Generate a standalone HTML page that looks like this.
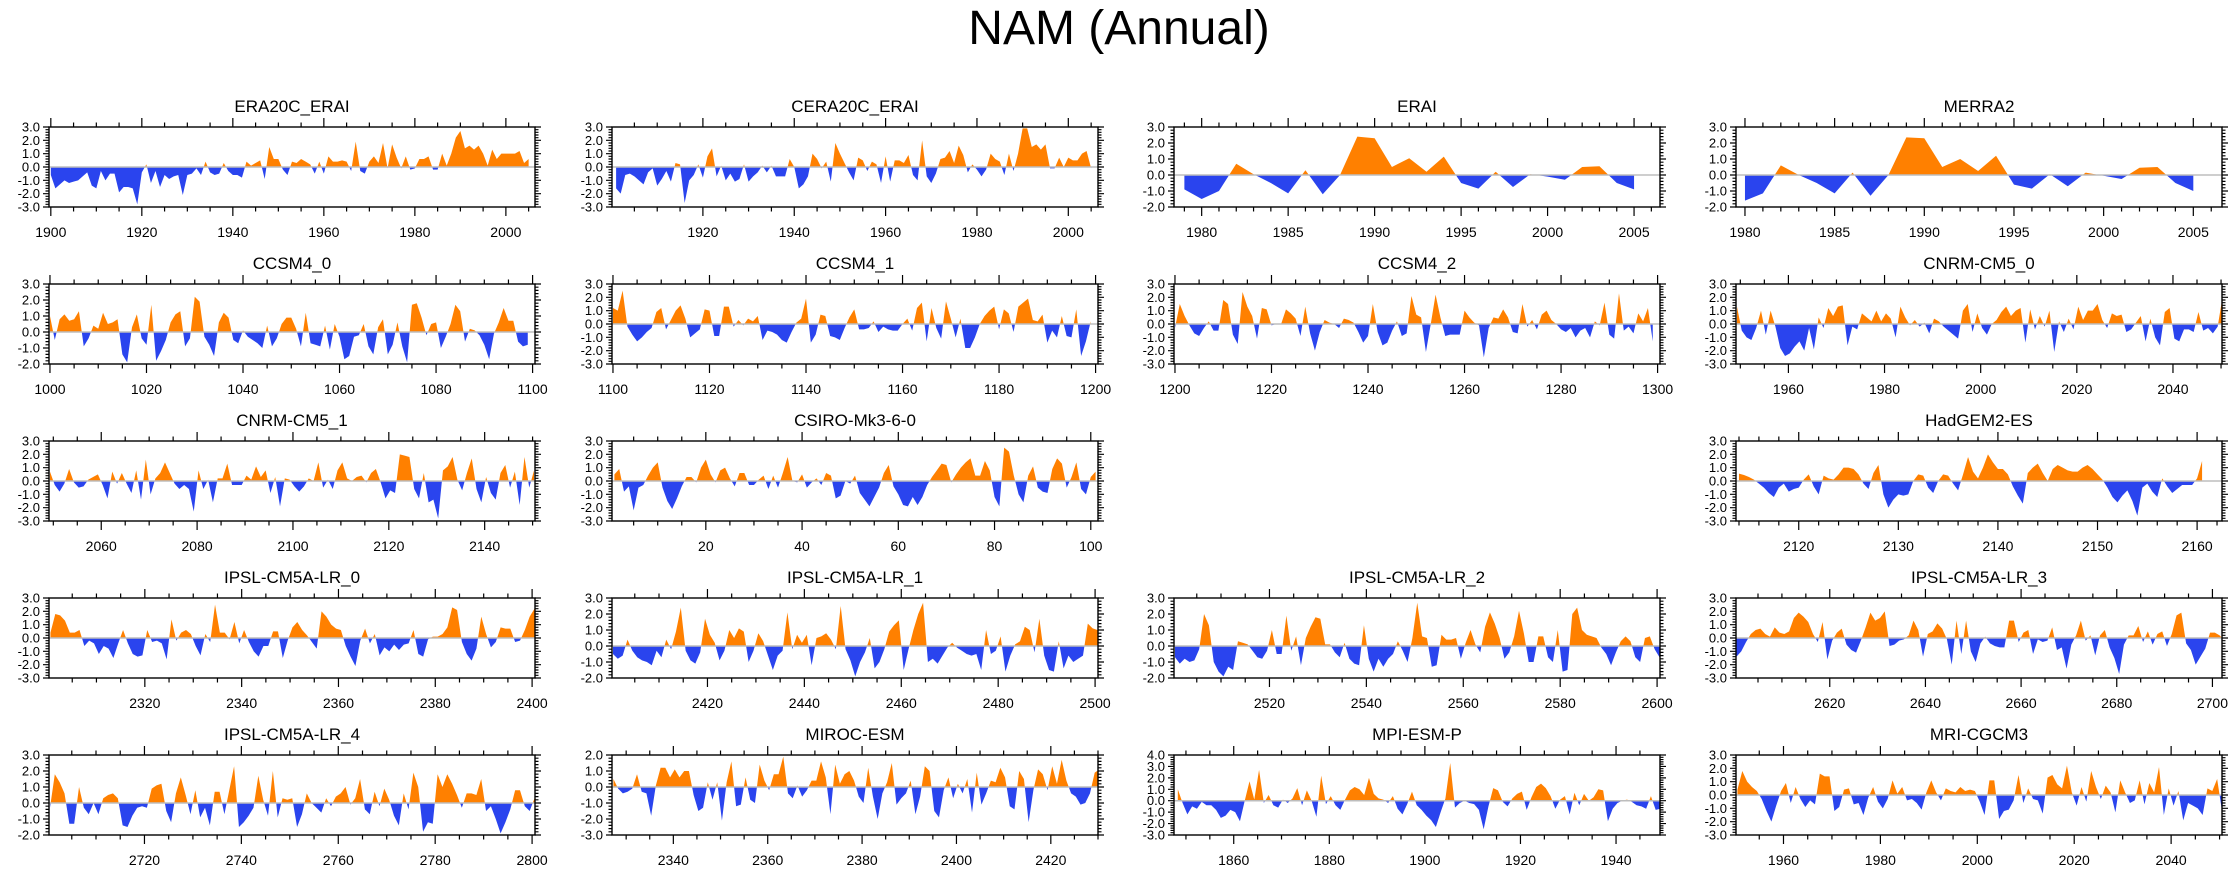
<!DOCTYPE html>
<html><head><meta charset="utf-8"><title>NAM (Annual)</title>
<style>
html,body{margin:0;padding:0;background:#fff;}
svg{display:block;font-family:"Liberation Sans",Arial,sans-serif;}
</style></head>
<body>
<svg id="chart" width="2238" height="876" viewBox="0 0 2238 876" xmlns="http://www.w3.org/2000/svg">
<text x="1119" y="44" font-size="48" text-anchor="middle" fill="#000">NAM (Annual)</text>
</svg>
<script>
// ---- data arrays ----
const era20cValues=[-0.6,-1.6,-1.3,-1.0,-1.2,-1.1,-1.0,-0.7,-0.4,-1.4,-1.6,-0.3,-1.0,-0.5,-0.5,-1.9,-1.5,-1.5,-1.6,-2.8,-0.4,0.2,-1.2,-0.3,-1.5,-0.6,-0.9,-0.7,-0.6,-2.1,-0.6,-0.5,-0.1,-0.6,0.4,-0.4,-0.6,-0.5,0.3,-0.3,-0.6,-0.6,-0.8,0.4,0.1,0.3,0.5,-0.9,1.5,0.6,0.6,-0.2,-0.6,0.4,0.3,0.6,0.4,0.2,-0.5,0.4,-0.5,0.8,0.4,0.4,0.5,0.4,-0.3,1.9,-0.3,-0.5,0.4,0.8,0.3,1.8,-0.1,1.7,0.7,-0.1,0.8,-0.2,-0.1,0.6,0.6,0.8,-0.2,-0.2,1.0,0.1,1.0,2.2,2.7,1.4,1.6,1.3,1.6,1.0,0.1,1.3,0.6,1.0,1.0,1.0,1.0,1.2,0.3,0.6];
const cera20cValues=[-1.6,-2.0,-0.6,-0.5,-0.7,-1.0,-1.3,-0.4,-0.1,-1.4,-0.9,-0.3,-1.1,0.3,0.2,-2.7,-1.0,-0.6,0.2,-0.8,0.8,1.4,-0.7,0.1,-1.0,-0.5,-1.1,-0.9,0.2,-1.1,-0.7,-0.4,0.1,-0.4,0.1,-0.7,-0.7,-0.7,0.6,0.0,-1.6,-1.3,-0.7,1.0,0.6,-0.1,0.4,-1.1,1.8,1.0,0.3,-0.4,-1.0,0.7,0.5,-0.3,0.4,0.2,-1.2,0.8,-1.1,0.5,0.5,0.3,0.9,-0.6,-1.0,2.0,-0.7,-1.2,-0.5,0.6,0.7,1.2,0.3,1.6,0.9,-0.4,0.2,-0.2,-0.7,-0.2,1.0,0.6,0.4,-0.6,1.0,-0.3,1.0,2.9,2.9,1.5,1.7,1.3,1.7,-0.1,-0.1,0.7,0.0,0.7,0.5,0.5,1.0,1.2,-0.1];
const eraiValues=[-0.9,-1.5,-1.0,0.7,0.05,-0.5,-1.15,0.3,-1.2,0.0,2.4,2.3,0.5,1.05,0.2,1.15,-0.5,-0.85,0.2,-0.75,0.05,-0.1,-0.3,0.5,0.55,-0.5,-0.9];
const merra2Values=[-1.6,-1.15,0.6,0.0,-0.5,-1.15,0.15,-1.3,0.0,2.35,2.3,0.5,1.0,0.25,1.2,-0.6,-0.85,0.05,-0.7,0.15,-0.05,-0.25,0.45,0.5,-0.5,-1.0];
const ccsm40Values=[1.0,-0.5,0.8,1.1,0.7,0.8,1.3,-0.9,-0.4,0.4,0.2,1.2,0.5,0.6,0.8,-1.4,-1.9,0.3,1.1,-0.4,-0.8,1.7,-1.8,-1.2,-0.5,0.6,1.1,1.3,-0.9,-0.4,2.2,1.9,-0.3,-0.8,-1.5,0.6,1.2,0.9,-0.5,-0.7,0.1,-0.3,-0.5,-0.7,-1.0,0.4,-0.9,-0.4,0.5,0.9,0.9,0.2,-0.9,1.2,-0.7,-0.8,-0.9,0.4,-1.1,0.5,-0.3,-1.7,-1.5,-0.3,-0.2,0.5,-0.9,-1.4,0.3,0.8,-1.4,-0.8,0.6,-0.9,-1.9,1.7,1.8,0.9,-0.2,0.5,0.6,-1.0,-0.3,0.5,1.7,1.3,-0.6,0.2,0.1,-0.2,-0.8,-1.7,-0.1,0.6,1.5,0.7,0.7,-0.6,-0.9,-0.8];
const ccsm41Values=[1.2,1.0,2.5,-0.2,-0.8,-1.3,-1.0,-0.6,-0.3,0.9,1.2,-0.4,0.3,1.0,1.4,0.4,-1.0,-0.7,-0.4,1.1,1.0,-0.9,-0.9,1.3,1.3,-0.2,0.3,-0.1,0.4,0.2,0.6,-1.2,-0.5,-0.6,-0.8,-1.2,-1.4,-0.6,0.1,0.4,1.9,-1.4,-0.8,0.7,0.6,-0.9,-1.0,-1.2,-0.3,0.5,1.1,-0.4,-0.4,-0.3,0.2,-0.6,-0.2,-0.4,-0.5,-0.5,0.0,0.4,-0.5,1.2,1.6,-1.3,1.2,-0.3,-1.1,1.7,0.4,-1.0,0.4,-1.8,-1.8,-1.0,0.0,0.6,1.0,1.3,-0.4,1.1,0.8,-0.6,1.3,1.6,1.9,0.3,0.2,0.7,-1.4,-0.5,-1.0,0.6,-0.9,-1.0,1.1,-2.4,-1.3,0.2];
const ccsm42Values=[-0.3,1.5,0.6,-0.1,-0.7,-0.9,-0.3,0.2,-0.5,-0.5,1.8,1.5,-0.8,-1.5,2.4,1.3,0.6,-1.1,1.2,1.1,-0.1,0.0,0.0,1.1,0.8,0.4,-0.9,1.3,-0.7,-2.0,-0.6,0.3,0.1,0.0,-0.3,0.4,0.3,0.1,-0.6,-1.4,-0.9,1.5,-0.6,-1.6,-1.4,-0.5,0.2,-0.9,-0.7,2.1,0.7,0.5,-2.1,0.0,2.2,0.5,-0.9,-0.8,-0.8,-0.8,1.0,0.5,0.1,-0.1,-2.5,-0.3,0.5,0.4,1.1,0.5,-0.6,-0.7,1.5,-0.2,0.3,-0.4,0.7,1.0,0.3,0.0,-0.4,-0.6,-0.3,-1.0,-0.5,-0.3,-1.0,0.2,-0.1,1.6,-0.8,-1.1,2.3,-0.5,-0.2,-0.7,0.8,0.2,1.2,-1.3];
const cnrm0Values=[1.3,-0.5,-1.0,-1.2,-0.3,1.0,-0.8,1.0,-0.2,-1.8,-2.4,-2.2,-1.7,-1.3,-2.0,-0.3,-1.9,0.5,-0.3,1.2,0.6,1.3,1.4,-1.6,-0.2,-0.4,0.8,0.5,0.2,1.0,0.2,0.8,0.4,-1.0,1.3,0.5,-0.1,0.3,-0.2,0.1,-0.7,0.4,0.2,-0.2,-0.5,-0.8,-1.1,1.0,1.5,-0.6,0.8,-0.3,-0.8,0.0,0.3,0.9,1.3,0.6,1.0,1.2,-1.4,1.1,-0.4,0.6,-0.2,1.0,-2.1,0.2,-0.6,0.4,-0.4,1.3,0.3,1.0,1.0,1.5,0.3,-0.3,0.8,0.6,0.7,-0.6,-0.4,0.1,0.6,-1.3,0.4,-1.0,-1.6,0.9,1.2,-1.1,-1.3,-0.4,-0.4,-0.6,0.9,-0.5,-0.3,-0.7,-0.2,2.0];
const cnrm1Values=[0.7,-0.3,-0.8,-0.2,0.9,-0.1,-0.5,-0.4,0.1,0.3,0.5,-0.3,-1.3,0.7,-0.2,0.6,-0.2,-0.9,0.8,-1.4,1.6,-1.0,0.2,0.6,1.4,0.6,-0.2,-0.6,-0.3,-0.6,-2.3,0.8,-0.6,0.1,-1.6,0.2,0.2,1.3,-0.3,-0.3,-0.3,0.4,0.1,1.1,0.3,0.8,-0.9,0.3,-1.9,0.2,0.1,-0.4,-0.8,-0.4,0.2,0.0,1.4,-0.5,0.1,-0.6,0.8,1.4,0.2,0.0,0.3,0.4,-0.1,0.6,0.9,-0.1,-1.3,-0.7,-0.9,2.0,1.9,1.8,-0.6,-1.3,0.6,-1.6,-1.4,-2.8,0.8,1.1,1.8,0.1,-0.7,0.6,1.7,-0.6,-1.6,0.3,-0.9,-1.4,0.6,1.2,-0.5,0.7,-1.8,1.8,-0.5,0.8];
const csiroValues=[0.5,0.9,-0.8,-0.4,-2.2,-0.5,-0.3,0.4,1.0,1.4,-0.5,-1.5,-2.1,-1.3,-0.4,0.3,0.3,-0.1,1.0,1.6,0.5,-0.1,0.8,1.0,0.2,-0.4,0.6,0.6,-0.3,-0.3,0.1,0.4,-0.6,0.4,-0.5,0.6,1.8,0.0,-0.1,0.5,-0.5,-0.1,0.2,-0.3,0.6,0.4,-1.3,-1.1,0.0,-0.2,0.4,-0.9,-1.4,-1.9,-1.2,-0.5,0.6,1.2,-0.4,-1.0,-1.8,-1.9,-1.2,-1.8,-1.2,-0.3,0.3,0.8,1.3,1.2,-0.1,0.5,1.0,1.4,1.7,0.4,0.4,1.5,0.8,-1.2,-1.9,2.5,2.2,0.4,-1.0,-1.6,0.4,1.1,-0.5,-0.8,-0.9,0.9,1.7,1.3,-0.5,0.3,1.4,-0.6,-1.0,0.3,0.7];
const hadgemValues=[0.55,0.45,0.3,0.1,-0.2,-0.5,-0.9,-1.2,-0.5,-0.2,-0.8,-0.6,-0.5,0.1,0.5,-0.4,-1.0,0.4,0.2,0.1,0.5,1.0,1.0,0.9,0.5,-0.2,-0.6,0.6,1.2,-1.0,-2.0,-1.4,-1.0,-1.1,-1.0,0.0,0.5,0.4,-0.5,-0.9,0.0,0.5,0.4,-0.2,-0.7,0.5,1.8,0.7,0.2,1.0,2.0,1.4,0.9,0.9,0.5,-0.4,-1.1,-1.7,0.6,1.0,1.3,0.6,0.0,0.9,1.2,1.0,0.8,0.7,0.7,1.0,1.2,0.9,0.5,0.1,-0.5,-1.2,-1.6,-1.1,-0.7,-1.5,-2.6,-0.5,-0.2,-0.8,-1.2,0.2,-0.4,-0.9,-0.6,-0.3,-0.3,-0.3,0.2,1.5];
const ipsl0Values=[0.4,1.8,1.7,1.3,0.4,0.4,0.6,-0.6,-0.2,-0.4,-1.2,-0.6,-0.8,-1.5,-0.4,0.6,-0.4,-1.2,-1.4,-1.3,0.6,-0.3,-0.2,-0.4,-1.6,1.4,-0.2,0.4,0.6,0.3,-0.6,-1.3,0.3,-0.3,2.5,0.4,0.4,-0.1,1.2,-0.4,0.6,-0.3,-1.0,-1.4,-0.6,-0.6,0.5,0.5,-1.5,-0.2,0.8,1.2,0.6,0.2,-0.3,-0.8,2.0,1.6,1.0,0.7,0.6,-0.6,-1.4,-2.1,-0.2,0.7,-0.4,0.3,-1.3,-0.7,-1.0,-0.5,-0.9,-0.5,-0.4,0.6,-1.2,-1.4,-0.1,0.1,0.1,0.3,0.8,2.3,2.1,-0.3,-1.2,-1.7,-0.8,1.6,0.3,-0.7,-0.3,0.8,0.7,0.7,-0.3,-0.2,0.6,1.6,2.2];
const ipsl1Values=[-0.5,-0.8,-0.6,0.4,-0.3,-0.7,-0.9,-1.0,-1.2,-0.3,-0.7,0.4,-0.2,0.9,2.4,-0.3,-0.9,-1.1,-0.4,1.7,0.7,0.2,-0.9,-0.3,1.0,0.5,1.1,0.9,-1.0,-0.3,0.8,0.3,-0.6,-1.5,-0.6,-0.3,2.1,-0.2,0.7,0.2,0.7,-1.2,0.5,0.6,0.8,0.4,-0.2,2.5,-0.2,-0.9,-1.9,-1.0,-0.4,0.5,-1.4,-1.0,-0.2,0.9,1.3,1.6,-1.5,-0.2,1.0,2.0,2.7,-1.0,-0.8,-1.1,-0.6,-0.1,0.2,-0.1,-0.3,-0.5,-0.6,-0.5,-1.5,1.0,-0.5,-0.3,0.6,-1.6,-0.6,0.1,0.3,1.2,1.0,-0.4,1.7,-0.6,-1.5,-1.6,0.3,-1.4,-0.6,-1.0,-0.8,-0.6,1.4,1.1,1.0];
const ipsl2Values=[-0.7,-1.1,-0.8,-1.0,-0.9,-0.2,2.0,1.3,-1.0,-1.6,-1.9,-1.3,-1.5,0.3,0.2,0.1,-0.3,-0.7,-0.8,-0.3,1.0,-0.5,-0.5,1.9,-0.3,0.6,-1.2,0.5,1.2,1.8,1.7,0.1,0.1,-0.4,-0.7,0.2,-0.8,-1.1,-1.2,1.3,-0.8,-1.6,-0.8,-1.3,-0.8,-0.5,0.3,-0.3,-1.0,0.5,2.7,0.6,0.5,-1.3,-1.2,0.7,0.4,0.4,0.5,-0.8,0.2,1.0,0.1,-0.4,1.2,2.1,1.4,0.5,-0.8,-0.4,0.6,2.2,0.8,-1.0,-1.0,0.6,0.6,-0.7,-1.0,1.0,-1.6,-1.5,2.0,2.4,1.0,0.7,0.6,0.5,-0.1,-0.5,-1.2,-0.4,0.3,0.6,0.3,-0.7,-1.0,0.5,0.6,-0.2,-0.7];
const ipsl3Values=[-1.4,-1.0,-0.3,0.3,0.6,0.7,0.3,0.1,0.8,0.4,0.3,0.5,1.5,1.9,1.6,1.2,0.3,-0.3,1.2,-1.6,-0.2,0.4,0.7,-0.5,-0.9,-1.1,-0.2,0.8,1.9,1.3,1.5,2.0,-0.6,-0.5,-0.2,-0.1,0.2,1.3,0.6,-1.4,0.3,0.5,1.1,0.7,-0.1,-2.0,1.3,-1.2,1.3,-1.0,-1.8,-0.4,0.1,-0.4,-0.6,-0.7,-0.7,1.3,1.3,-0.3,0.4,0.6,-1.2,-0.1,-0.3,-0.2,0.8,-0.9,-0.7,-2.3,-0.5,0.2,1.3,-0.2,0.2,-1.3,0.2,0.6,-0.7,-1.5,-2.7,-0.5,0.2,0.2,0.9,-0.3,0.5,-0.5,0.3,0.5,-0.6,0.3,1.7,1.9,-0.4,-0.9,-2.0,-1.4,-0.8,0.4,0.4,0.2,-0.2];
const ipsl4Values=[-0.3,1.8,1.3,0.6,-1.3,-1.3,1.0,-0.3,-0.7,0.0,-0.7,0.3,0.5,0.6,0.3,-1.4,-1.5,-0.8,-0.3,-0.2,-0.3,0.9,1.1,1.2,-0.5,-1.2,0.6,1.6,0.5,-0.7,0.8,-0.9,-0.3,-1.4,0.7,0.7,-0.7,0.8,2.3,-1.5,-1.2,-0.8,-0.3,1.7,0.2,-0.8,2.0,-0.9,0.3,0.2,0.3,-1.5,-0.7,0.6,0.0,-0.3,-0.6,0.3,-0.2,0.4,0.6,1.0,-0.1,0.3,1.5,-0.4,-0.7,0.7,-0.2,0.9,0.2,-0.8,-1.4,0.6,-0.4,1.9,1.0,-1.8,-1.2,-1.3,1.8,1.0,1.8,1.2,0.5,-0.3,0.6,0.6,0.5,1.5,-0.5,-0.2,-1.0,-1.9,-1.2,-0.4,0.8,0.8,-0.2,-0.5,0.3,-1.8];
const mirocValues=[0.5,-0.1,-0.4,-0.3,-0.1,0.8,-0.3,-0.4,-1.8,0.1,1.2,1.2,0.6,1.1,0.6,1.0,1.0,-0.5,-1.5,-1.3,0.3,-0.8,0.3,-2.1,0.3,1.6,-1.2,-1.1,0.6,-0.8,-1.0,1.4,0.4,-0.2,0.8,0.8,1.9,-0.4,-0.7,0.1,-0.6,-0.2,0.4,0.4,1.6,0.6,-1.7,1.4,0.2,0.8,1.0,0.4,-0.6,-1.0,1.2,-0.6,-2.0,-0.4,0.3,1.5,-1.1,-0.7,-0.4,0.4,-1.7,-0.6,1.3,1.0,-1.5,-1.9,-0.2,0.6,-0.7,0.2,-0.4,0.5,-1.6,0.9,-1.1,-0.4,0.4,0.3,1.2,0.6,-1.2,-1.4,1.0,0.5,-2.2,-0.2,1.1,0.8,-0.2,1.3,0.2,1.7,0.4,-0.4,-0.6,-1.1,-1.0,-0.4,0.9,1.1,-0.1,1.0,-0.5];
const mpiValues=[1.0,-0.2,-1.2,-0.5,-0.7,-0.1,-0.4,-0.4,-0.8,-1.5,-1.3,-0.8,-1.0,-1.8,0.0,1.7,0.1,2.7,-0.2,0.5,-0.4,-0.6,0.1,-0.2,0.2,1.1,-0.4,0.9,0.0,-1.4,2.2,-0.3,0.4,-0.4,-0.8,0.1,0.9,1.2,1.0,0.5,2.0,0.6,0.2,0.1,-0.2,0.4,-0.7,-1.2,-0.3,0.8,-0.4,-0.8,-1.3,-1.7,-2.3,-1.0,0.2,3.3,-0.6,-0.2,0.0,-0.2,-0.3,-0.8,-2.5,-0.5,1.1,0.9,-0.1,-0.5,0.2,0.6,0.8,-0.8,0.3,1.2,1.5,1.1,0.4,-0.7,0.1,0.4,-1.2,0.7,-0.4,0.6,0.0,0.3,1.0,0.9,-1.8,-0.7,-0.2,0.0,0.1,-0.1,-0.4,-0.5,-0.7,0.4,-0.8,-0.7,0.6];
const mriValues=[0.4,1.8,1.0,0.6,0.3,-0.3,-1.2,-2.0,-0.8,0.3,0.9,-0.6,0.6,-0.3,-0.9,-0.4,-0.7,1.6,1.4,1.4,-1.2,-0.9,0.4,0.5,-0.7,-0.6,-1.5,-0.2,0.6,-0.5,-1.0,-0.3,1.1,0.1,0.6,-0.4,-0.3,-0.6,-1.1,0.2,1.1,0.2,-0.4,0.5,0.3,0.2,0.6,0.3,0.4,0.3,-0.5,-1.5,1.1,1.1,-1.8,-1.2,-1.1,-0.4,1.5,-0.6,0.5,-0.3,-0.4,-1.4,1.3,1.5,0.8,0.5,2.2,0.2,-0.8,0.6,-0.5,1.8,0.6,-0.3,0.7,0.2,-1.3,1.1,0.2,-0.6,-0.4,1.1,-0.7,0.9,0.2,2.1,-1.5,0.5,-0.8,0.3,-1.9,-0.6,-0.8,-1.0,-1.5,0.5,0.3,1.2,-1.2];

// panel axis settings: [title, col, row, startYear, yearStep, xMin, xMax, yMin, yMax, majorStep, minorStep]
const panelTitles=["ERA20C_ERAI","CERA20C_ERAI","ERAI","MERRA2","CCSM4_0","CCSM4_1","CCSM4_2","CNRM-CM5_0","CNRM-CM5_1","CSIRO-Mk3-6-0","HadGEM2-ES","IPSL-CM5A-LR_0","IPSL-CM5A-LR_1","IPSL-CM5A-LR_2","IPSL-CM5A-LR_3","IPSL-CM5A-LR_4","MIROC-ESM","MPI-ESM-P","MRI-CGCM3"];
const panelSeries=[era20cValues,cera20cValues,eraiValues,merra2Values,ccsm40Values,ccsm41Values,ccsm42Values,cnrm0Values,cnrm1Values,csiroValues,hadgemValues,ipsl0Values,ipsl1Values,ipsl2Values,ipsl3Values,ipsl4Values,mirocValues,mpiValues,mriValues];
const panelStartYear=[1900,1901,1979,1980,1000,1100,1200,1949.3,2049.3,1,2114,2300.5,2400.5,2500.5,2600.5,2700.5,2327.3,1848.3,1950.5];
const panelYearStep=[1,1,1,1,1,1,1,1,1,1,0.5,1,1,1,1,1,1,1,1];
const panelXMin=[1899.6,1900.1,1978.4,1979.5,999.8,1099.8,1199.8,1949.1,2049.1,0.5,2113.7,2300.2,2400.3,2500.3,2600.4,2700.3,2327,1847.5,1950.2];
const panelXMax=[2006.4,2006.5,2006.5,2006.6,1100.5,1200.5,1300.5,2050.2,2150.5,101.5,2162.5,2400.6,2500.6,2600.6,2702,2800.6,2430,1949.2,2050.5];
const panelYMin=[-3,-3,-2,-2,-2,-3,-3,-3,-3,-3,-3,-3,-2,-2,-3,-2,-3,-3,-3];
const panelYMax=[3,3,3,3,3,3,3,3,3,3,3,3,3,3,3,3,2,4,3];
const panelMajorStep=[20,20,5,5,20,20,20,20,20,20,10,20,20,20,20,20,20,20,20];
const panelMinorStep=[5,5,1,1,5,5,5,5,5,5,2,5,5,5,5,5,5,5,5];
const panelCol=[0,1,2,3,0,1,2,3,0,1,3,0,1,2,3,0,1,2,3];
const panelRow=[0,0,0,0,1,1,1,1,2,2,2,3,3,3,3,4,4,4,4];

// ---- layout ----
const colX=[49,612,1174,1736], rowY=[127,284,441,598,755], BW=486, BH=80;
const NS="http://www.w3.org/2000/svg";
const svg=document.getElementById('chart');
function mk(tag,attrs,parent){const e=document.createElementNS(NS,tag);for(const k in attrs)e.setAttribute(k,attrs[k]);(parent||svg).appendChild(e);return e;}
const defs=mk('defs',{});

panelTitles.forEach((title,p)=>{
  const x0=colX[panelCol[p]], y0=rowY[panelRow[p]];
  const xmin=panelXMin[p], xmax=panelXMax[p], ymin=panelYMin[p], ymax=panelYMax[p];
  const sx=v=>x0+(v-xmin)/(xmax-xmin)*BW;
  const sy=v=>y0+(ymax-v)/(ymax-ymin)*BH;
  const slug=title.toLowerCase().replace(/[^a-z0-9]+/g,'-');
  const g=mk('g',{});
  
  
  const zy=sy(0);
  // clip paths
  const cpA=mk('clipPath',{id:'ca'+p},defs); mk('rect',{x:x0,y:y0,width:BW,height:zy-y0},cpA);
  const cpB=mk('clipPath',{id:'cb'+p},defs); mk('rect',{x:x0,y:zy,width:BW,height:y0+BH-zy},cpB);
  const vals=panelSeries[p];
  let d='M'+sx(panelStartYear[p]).toFixed(2)+','+zy.toFixed(2);
  vals.forEach((v,i)=>{const yr=panelStartYear[p]+i*panelYearStep[p];d+=' L'+sx(yr).toFixed(2)+','+sy(v).toFixed(2);});
  d+=' L'+sx(panelStartYear[p]+(vals.length-1)*panelYearStep[p]).toFixed(2)+','+zy.toFixed(2)+' Z';
  const pos=mk('path',{d:d,fill:'#ff8000','clip-path':'url(#ca'+p+')'},g);
  
  
  const neg=mk('path',{d:d,fill:'#2a44ee','clip-path':'url(#cb'+p+')'},g);
  
  
  const zl=mk('line',{x1:x0,x2:x0+BW,y1:zy,y2:zy,stroke:'#bdbdbd','stroke-width':1.5},g);
  
  
  const box=mk('rect',{x:x0,y:y0,width:BW,height:BH,fill:'none',stroke:'#000','stroke-width':1.4},g);
  
  
  // x ticks
  let tp='';
  const firstMinor=Math.ceil(xmin/panelMinorStep[p])*panelMinorStep[p];
  for(let t=firstMinor;t<=xmax+1e-9;t+=panelMinorStep[p]){
    const major=Math.abs(t/panelMajorStep[p]-Math.round(t/panelMajorStep[p]))<1e-6;
    const L=major?9:4.5, x=sx(t).toFixed(2);
    tp+=`M${x},${y0}v${-L}M${x},${y0+BH}v${L}`;
    if(major){
      const lab=mk('text',{x:x,y:y0+BH+30,'font-size':14,'text-anchor':'middle',fill:'#000'},g);
      
      
      lab.textContent=String(Math.round(t));
    }
  }
  // y ticks
  for(let k=Math.round(ymin*5);k<=Math.round(ymax*5);k++){
    const v=k/5, major=(k%5===0), L=major?6:3.5, y=sy(v).toFixed(2);
    tp+=`M${x0},${y}h${-L}M${x0+BW},${y}h${L}`;
    if(major){
      const lab=mk('text',{x:x0-9,y:(+y+4.5).toFixed(2),'font-size':13,'text-anchor':'end',fill:'#000'},g);
      
      
      lab.textContent=v.toFixed(1);
    }
  }
  const ticks=mk('path',{d:tp,stroke:'#000','stroke-width':1.2,fill:'none'},g);
  
  
  const tt=mk('text',{x:x0+BW/2,y:y0-15,'font-size':17,'text-anchor':'middle',fill:'#000'},g);
  
  
  tt.textContent=title;
});
</script>
</body></html>
